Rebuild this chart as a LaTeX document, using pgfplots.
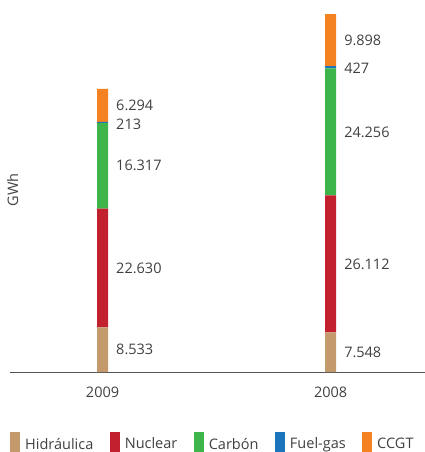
\documentclass[border=0pt]{standalone}
\usepackage{pgfplots}
\pgfplotsset{compat=1.18}
\usepackage{fontspec}
\setmainfont{Open Sans}
\definecolor{hid}{HTML}{C49A6C}
\definecolor{nuc}{HTML}{C21F2F}
\definecolor{car}{HTML}{3DB54A}
\definecolor{fue}{HTML}{1C75BC}
\definecolor{ccg}{HTML}{F58220}
\definecolor{txt}{HTML}{404040}
\definecolor{axl}{HTML}{555555}
\newcommand{\myfs}{\fontsize{14.5bp}{17bp}\selectfont}
\tikzset{vlab/.style={anchor=west, inner sep=0pt, font=\myfs, text=txt}}
\begin{document}
\begin{tikzpicture}
\useasboundingbox (-10bp,-80bp) rectangle (415bp,372bp);
\begin{axis}[
  at={(0,0)}, anchor=south west,
  scale only axis, width=415bp, height=372bp,
  xmin=-0.406, xmax=1.414, ymin=0, ymax=70940,
  ybar stacked, bar width=11bp,
  axis y line=none, axis x line*=bottom,
  x axis line style={draw=axl, line width=1bp},
  xtick={0,1}, xticklabels={2009,2008}, major tick length=0,
  xticklabel style={font=\myfs, text=txt, yshift=-11bp},
  clip=false,
  legend columns=5,
  legend style={draw=none, fill=none, at={(0,0)}, anchor=north west, xshift=0bp, yshift=-60bp,
    font=\myfs, text=txt, inner sep=0pt,
    /tikz/every odd column/.append style={column sep=3bp},
    /tikz/every even column/.append style={column sep=14.5bp}},
  legend image code/.code={\fill[#1] (0bp,-14bp) rectangle (10bp,12bp);},
]
\addplot[fill=hid, draw=none] coordinates {(0,8533) (1,7548)};
\addplot[fill=nuc, draw=none] coordinates {(0,22630) (1,26112)};
\addplot[fill=car, draw=none] coordinates {(0,16317) (1,24256)};
\addplot[fill=fue, draw=none] coordinates {(0,213) (1,427)};
\addplot[fill=ccg, draw=none] coordinates {(0,6294) (1,9898)};
\legend{Hidráulica, Nuclear, Carbón, Fuel-gas, CCGT}
\node[vlab] at (axis cs:0.059,4266) {8.533};
\node[vlab] at (axis cs:0.059,19848) {22.630};
\node[vlab] at (axis cs:0.059,39322) {16.317};
\node[vlab] at (axis cs:0.059,47294) {213};
\node[vlab] at (axis cs:0.059,50917) {6.294};
\node[vlab] at (axis cs:1.059,3774) {7.548};
\node[vlab] at (axis cs:1.059,20604) {26.112};
\node[vlab] at (axis cs:1.059,45788) {24.256};
\node[vlab] at (axis cs:1.059,57973) {427};
\node[vlab] at (axis cs:1.059,63312) {9.898};
\end{axis}
\node[rotate=90, anchor=base, inner sep=0pt, font=\myfs, text=txt] at (8bp,182bp) {GWh};
\end{tikzpicture}
\end{document}
